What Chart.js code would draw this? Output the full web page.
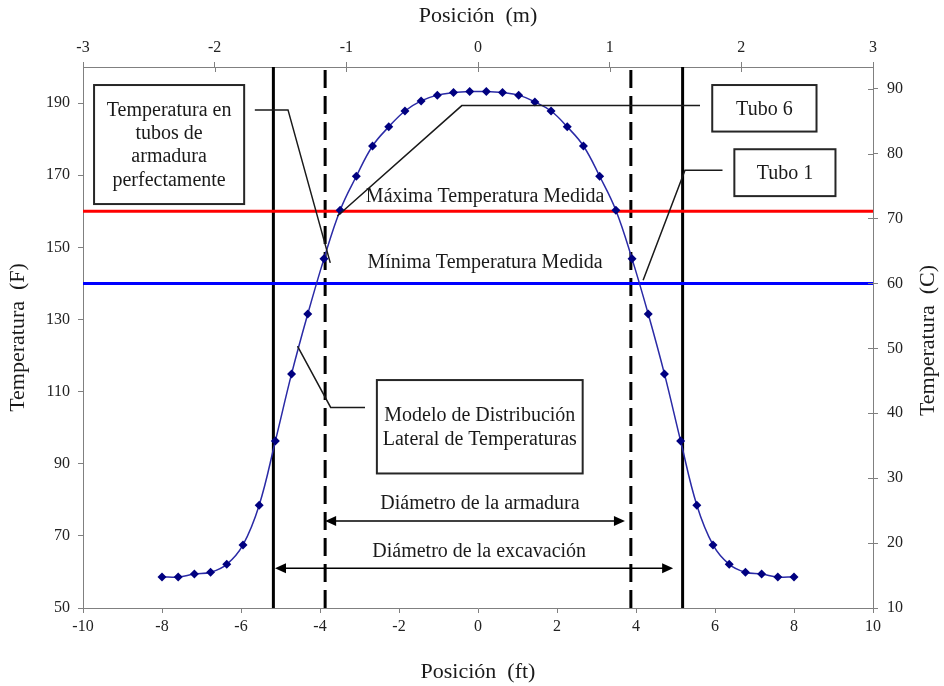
<!DOCTYPE html>
<html>
<head>
<meta charset="utf-8">
<script src="https://cdn.jsdelivr.net/npm/chart.js@4.4.0/dist/chart.umd.min.js"></script>
<style>
body { margin: 0; background: #fff; }
</style>
</head>
<body>
<canvas id="grafica" width="944" height="686"></canvas>
<script>
// posiciones (ft) y temperaturas (F) del modelo
var posFt = [-8.00, -7.59, -7.18, -6.77, -6.36, -5.95, -5.54, -5.13, -4.72, -4.31,
	-3.90, -3.49, -3.08, -2.67, -2.26, -1.85, -1.44, -1.03, -0.62, -0.21,
	0.21, 0.62, 1.03, 1.44, 1.85, 2.26, 2.67, 3.08, 3.49, 3.90,
	4.31, 4.72, 5.13, 5.54, 5.95, 6.36, 6.77, 7.18, 7.59, 8.00];
var tempF = [58.6, 58.6, 59.4, 59.9, 62.1, 67.5, 78.5, 96.3, 114.9, 131.5,
	146.8, 160.3, 169.7, 178.1, 183.4, 187.8, 190.6, 192.2, 192.9, 193.2,
	193.2, 192.9, 192.2, 190.3, 187.8, 183.4, 178.1, 169.7, 160.3, 146.8,
	131.5, 114.9, 96.3, 78.5, 67.5, 62.1, 59.9, 59.4, 58.6, 58.6];

var tempMax = 160;   // Máxima Temperatura Medida
var tempMin = 140;   // Mínima Temperatura Medida
var radioExcavacion = 5.18;  // ft
var radioArmadura = 3.87;    // ft

var ticksFt = [-10, -8, -6, -4, -2, 0, 2, 4, 6, 8, 10];
var ticksM = [-3, -2, -1, 0, 1, 2, 3];
var ticksF = [50, 70, 90, 110, 130, 150, 170, 190];
var ticksC = [10, 20, 30, 40, 50, 60, 70, 80, 90];

var SERIF = '"Liberation Serif", "Times New Roman", serif';

function linea(x1, y1, x2, y2) {
	return [ { x : x1, y : y1 }, { x : x2, y : y2 } ];
}

function fijarTicks(lista) {
	return function(s) {
		s.ticks = lista.map(function(v) { return { value : v }; });
	};
}

// textos, cajas y flechas (en unidades de los ejes ft / F)
var cajas = [
	{ x1 : -9.72, x2 : -5.92, y1 : 195.0, y2 : 162.0, texto : [ 'Temperatura en', 'tubos de', 'armadura', 'perfectamente' ] },
	{ x1 : 5.93, x2 : 8.57, y1 : 195.0, y2 : 182.1, texto : [ 'Tubo 6' ] },
	{ x1 : 6.49, x2 : 9.05, y1 : 177.2, y2 : 164.2, texto : [ 'Tubo 1' ] },
	{ x1 : -2.56, x2 : 2.65, y1 : 113.2, y2 : 87.3, texto : [ 'Modelo de Distribución', 'Lateral de Temperaturas' ] }
];
var guias = [
	[ [-5.65, 188.1], [-4.81, 188.1], [-3.74, 145.7] ],
	[ [5.62, 189.3], [-0.41, 189.3], [-3.56, 158.7] ],
	[ [6.19, 171.4], [5.24, 171.4], [4.18, 140.9] ],
	[ [-4.57, 122.6], [-3.73, 105.6], [-2.86, 105.6] ]
];
var rotulos = [
	{ x : 0.18, y : 164.0, texto : 'Máxima Temperatura Medida' },
	{ x : 0.18, y : 145.7, texto : 'Mínima Temperatura Medida' },
	{ x : 0.05, y : 79.0, texto : 'Diámetro de la armadura' },
	{ x : 0.03, y : 65.6, texto : 'Diámetro de la excavación' }
];
var flechas = [
	{ x1 : -3.87, x2 : 3.72, y : 74.1 },
	{ x1 : -5.14, x2 : 4.94, y : 61.0 }
];
var tituloDerecho = 'Temperatura  (C)';

var notas = {
	id : 'notas',
	afterDatasetsDraw : function(chart) {
		var ctx = chart.ctx;
		var X = chart.scales.x, Y = chart.scales.y;
		var px = function(v) { return X.getPixelForValue(v); };
		var py = function(v) { return Y.getPixelForValue(v); };
		ctx.save();

		// marcas interiores de los ejes superior y derecho
		ctx.strokeStyle = '#808080';
		ctx.lineWidth = 1;
		var a = chart.chartArea;
		chart.scales.x2.ticks.forEach(function(t) {
			var xx = Math.round(chart.scales.x2.getPixelForValue(t.value)) + 0.5;
			ctx.beginPath(); ctx.moveTo(xx, a.top); ctx.lineTo(xx, a.top + 5); ctx.stroke();
		});
		chart.scales.y2.ticks.forEach(function(t) {
			var yy = Math.round(chart.scales.y2.getPixelForValue(t.value)) + 0.5;
			ctx.beginPath(); ctx.moveTo(a.right - 5, yy); ctx.lineTo(a.right, yy); ctx.stroke();
		});

		// líneas guía
		ctx.strokeStyle = '#1a1a1a';
		ctx.lineWidth = 1.5;
		guias.forEach(function(g) {
			ctx.beginPath();
			ctx.moveTo(px(g[0][0]), py(g[0][1]));
			for (var i = 1; i < g.length; i++) ctx.lineTo(px(g[i][0]), py(g[i][1]));
			ctx.stroke();
		});

		// cajas
		ctx.font = '20px ' + SERIF;
		ctx.textAlign = 'center';
		ctx.textBaseline = 'middle';
		cajas.forEach(function(c) {
			var l = px(c.x1), r = px(c.x2), t = py(c.y1), b = py(c.y2);
			ctx.fillStyle = '#fff';
			ctx.fillRect(l, t, r - l, b - t);
			ctx.strokeStyle = '#262626';
			ctx.lineWidth = 2;
			ctx.strokeRect(l, t, r - l, b - t);
			ctx.fillStyle = '#1a1a1a';
			var alto = 23.3;
			var y0 = (t + b) / 2 - (c.texto.length - 1) * alto / 2 + 1;
			c.texto.forEach(function(s, i) {
				ctx.fillText(s, (l + r) / 2, y0 + i * alto);
			});
		});

		// rótulos
		ctx.fillStyle = '#1a1a1a';
		rotulos.forEach(function(r) {
			ctx.fillText(r.texto, px(r.x), py(r.y));
		});

		// flechas
		ctx.strokeStyle = '#000';
		ctx.fillStyle = '#000';
		ctx.lineWidth = 1.5;
		flechas.forEach(function(f) {
			var l = px(f.x1), r = px(f.x2), y = py(f.y);
			ctx.beginPath(); ctx.moveTo(l + 6, y); ctx.lineTo(r - 6, y); ctx.stroke();
			ctx.beginPath(); ctx.moveTo(l, y); ctx.lineTo(l + 11, y - 5); ctx.lineTo(l + 11, y + 5); ctx.closePath(); ctx.fill();
			ctx.beginPath(); ctx.moveTo(r, y); ctx.lineTo(r - 11, y - 5); ctx.lineTo(r - 11, y + 5); ctx.closePath(); ctx.fill();
		});

		// título del eje derecho, leído de abajo hacia arriba como el izquierdo
		var s2 = chart.scales.y2;
		ctx.translate(s2.right - 16, (a.top + a.bottom) / 2 + 3);
		ctx.rotate(-Math.PI / 2);
		ctx.font = '22px ' + SERIF;
		ctx.fillStyle = '#1a1a1a';
		ctx.fillText(tituloDerecho, 0, 0);
		ctx.restore();
	}
};

var puntos = posFt.map(function(x, i) { return { x : x, y : tempF[i] }; });
var fMin = 50, fMax = 200;

var tickFont = { family : SERIF, size : 16 };
var titleFont = { family : SERIF, size : 22 };

new Chart(document.getElementById('grafica').getContext('2d'), {
	type : 'scatter',
	data : {
		datasets : [ {
			data : puntos,
			showLine : true,
			tension : 0.4,
			borderColor : '#2a2aa6',
			borderWidth : 1.5,
			pointStyle : 'rectRot',
			pointRadius : 4.5,
			pointBackgroundColor : '#000080',
			pointBorderColor : '#000080',
			pointBorderWidth : 0
		}, {
			data : linea(-10, tempMax, 10, tempMax),
			showLine : true, borderColor : '#ff0000', borderWidth : 3, pointRadius : 0
		}, {
			data : linea(-10, tempMin, 10, tempMin),
			showLine : true, borderColor : '#0000ff', borderWidth : 3, pointRadius : 0
		}, {
			data : linea(-radioExcavacion, fMin, -radioExcavacion, fMax),
			showLine : true, borderColor : '#000', borderWidth : 3, pointRadius : 0
		}, {
			data : linea(radioExcavacion, fMin, radioExcavacion, fMax),
			showLine : true, borderColor : '#000', borderWidth : 3, pointRadius : 0
		}, {
			data : linea(-radioArmadura, fMin, -radioArmadura, fMax),
			showLine : true, borderColor : '#000', borderWidth : 3, borderDash : [ 18, 8 ], pointRadius : 0
		}, {
			data : linea(radioArmadura, fMin, radioArmadura, fMax),
			showLine : true, borderColor : '#000', borderWidth : 3, borderDash : [ 18, 8 ], pointRadius : 0
		} ]
	},
	options : {
		responsive : false,
		animation : false,
		devicePixelRatio : 1,
		layout : { padding : 0 },
		plugins : { legend : { display : false }, tooltip : { enabled : false } },
		scales : {
			x : {
				type : 'linear', position : 'bottom', min : -10, max : 10,
				afterBuildTicks : fijarTicks(ticksFt),
				afterFit : function(s) { s.height = 78; },
				grid : { drawOnChartArea : false, tickLength : 5, color : '#808080' },
				border : { color : '#808080' },
				ticks : { font : tickFont, color : '#222', padding : 4, maxRotation : 0 },
				title : { display : true, text : 'Posición  (ft)', font : titleFont, color : '#1a1a1a', padding : { top : 0, bottom : 1 } }
			},
			x2 : {
				type : 'linear', position : 'top', min : -3, max : 3,
				afterBuildTicks : fijarTicks(ticksM),
				afterFit : function(s) { s.height = 67; },
				grid : { drawOnChartArea : false, tickLength : 5, color : '#808080' },
				border : { color : '#808080' },
				ticks : { font : tickFont, color : '#222', padding : 5, maxRotation : 0 },
				title : { display : true, text : 'Posición  (m)', font : titleFont, color : '#1a1a1a', padding : { top : 3, bottom : 0 } }
			},
			y : {
				type : 'linear', position : 'left', min : fMin, max : fMax,
				afterBuildTicks : fijarTicks(ticksF),
				afterFit : function(s) { s.width = 83; },
				grid : { drawOnChartArea : false, tickLength : 5, color : '#808080' },
				border : { color : '#808080' },
				ticks : { font : tickFont, color : '#222', padding : 8 },
				title : { display : true, text : 'Temperatura  (F)', font : titleFont, color : '#1a1a1a', padding : { top : 5, bottom : 0 } }
			},
			y2 : {
				type : 'linear', position : 'right', min : (fMin - 32) / 1.8, max : (fMax - 32) / 1.8,
				afterBuildTicks : fijarTicks(ticksC),
				afterFit : function(s) { s.width = 71; },
				grid : { drawOnChartArea : false, tickLength : 5, color : '#808080' },
				border : { color : '#808080' },
				ticks : { font : tickFont, color : '#222', padding : 9 },
				title : { display : false }
			}
		}
	},
	plugins : [ notas ]
});
</script>
</body>
</html>
